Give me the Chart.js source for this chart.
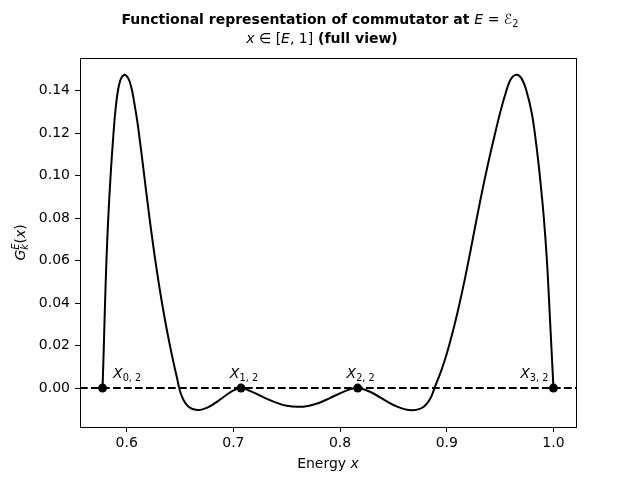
<!DOCTYPE html>
<html>
<head>
<meta charset="utf-8">
<title>Functional representation of commutator</title>
<script src="https://cdn.jsdelivr.net/npm/chart.js@4.4.0/dist/chart.umd.min.js"></script>
<style>
  html, body { margin: 0; padding: 0; background: #fff; }
  canvas { display: block; }
</style>
</head>
<body>
<canvas id="chart" width="640" height="480"></canvas>
<script>
// G_k^E(x)
const curveX = [
  0.57735, 0.5781, 0.5788, 0.5797, 0.5810, 0.5827, 0.5849, 0.5872, 0.5893, 0.5918,
  0.5945, 0.5978, 0.6000, 0.6025, 0.6050, 0.6075, 0.6100, 0.6125, 0.6150, 0.6175,
  0.6200, 0.6225, 0.6250, 0.6275, 0.6300, 0.6325, 0.6350, 0.6375, 0.6400, 0.6425,
  0.6450, 0.6475, 0.6492, 0.6510, 0.6535, 0.6565, 0.6600, 0.6635, 0.6668, 0.6710,
  0.6760, 0.6820, 0.6880, 0.6940, 0.7000, 0.7071, 0.7140, 0.7230, 0.7320, 0.7420,
  0.7500, 0.7598, 0.7700, 0.7800, 0.7900, 0.8000, 0.8090, 0.8165, 0.8240, 0.8330,
  0.8430, 0.8530, 0.8610, 0.8680, 0.8740, 0.8790, 0.8830, 0.8860, 0.8885, 0.8950,
  0.9000, 0.9050, 0.9100, 0.9150, 0.9200, 0.9250, 0.9300, 0.9350, 0.9400, 0.9450,
  0.9500, 0.9550, 0.9600, 0.9653, 0.9700, 0.9746, 0.9800, 0.9850, 0.9880, 0.9910,
  0.9940, 0.9965, 0.9985, 1.0000
];
const curveY = [
  0.0000, 0.0120, 0.0240, 0.0400, 0.0600, 0.0800, 0.1000, 0.1170, 0.1300, 0.1400,
  0.1455, 0.1474, 0.1468, 0.1446, 0.1400, 0.1330, 0.1252, 0.1157, 0.1058, 0.0955,
  0.0855, 0.0757, 0.0665, 0.0577, 0.0495, 0.0418, 0.0345, 0.0277, 0.0213, 0.0152,
  0.0095, 0.0040, 0.0000, -0.0030, -0.0058, -0.0080, -0.0094, -0.0101, -0.0103, -0.0100,
  -0.0091, -0.0073, -0.0052, -0.0030, -0.0011, 0.0000, -0.0010, -0.0030, -0.0052, -0.0072,
  -0.0083, -0.0088, -0.0084, -0.0070, -0.0048, -0.0024, -0.0006, 0.0000, -0.0009, -0.0030,
  -0.0060, -0.0086, -0.0100, -0.0104, -0.0099, -0.0085, -0.0062, -0.0034, 0.0000, 0.0085,
  0.0162, 0.0253, 0.0355, 0.0467, 0.0589, 0.0718, 0.0847, 0.0970, 0.1085, 0.1192,
  0.1295, 0.1385, 0.1453, 0.1474, 0.1457, 0.1400, 0.1285, 0.1100, 0.0960, 0.0800,
  0.0590, 0.0350, 0.0150, 0.0000
];

// marked points X_{k,2}
const rootX = [0.57735, 0.70711, 0.81650, 1.0];
const rootY = [0, 0, 0, 0];
const rootNames = ['0, 2', '1, 2', '2, 2', '3, 2'];

const xTicks = [0.6, 0.7, 0.8, 0.9, 1.0];
const yTicks = [0.00, 0.02, 0.04, 0.06, 0.08, 0.10, 0.12, 0.14];

// matplotlib-like 5% margins
function padRange(vals) {
  const lo = Math.min(...vals), hi = Math.max(...vals);
  const m = (hi - lo) * 0.05;
  return [lo - m, hi + m];
}
const [xMin, xMax] = padRange(curveX);
const [yMin, yMax] = padRange(curveY);

const FONT = '"DejaVu Sans", "Noto Sans", sans-serif';
const BASE = 14;

// text with italic / bold / sub / sup pieces
function fontFor(s, size) {
  return (s.i ? 'italic ' : '') + (s.b ? 'bold ' : '') + size + 'px ' + FONT;
}
function drawRich(ctx, segs, x, y, size, align) {
  let cursor = 0, prevStart = 0;
  const placed = [];
  for (const s of segs) {
    const sz = (s.sub || s.sup) ? size * 0.7 : size;
    ctx.font = fontFor(s, sz);
    const w = ctx.measureText(s.t).width;
    let start;
    if (s.same) { start = prevStart; cursor = Math.max(cursor, start + w); }
    else { start = cursor; cursor += w; }
    placed.push({ s, sz, start });
    prevStart = start;
  }
  let x0 = x;
  if (align === 'center') x0 = x - cursor / 2;
  if (align === 'right') x0 = x - cursor;
  ctx.textAlign = 'left';
  ctx.textBaseline = 'alphabetic';
  ctx.fillStyle = '#000';
  for (const p of placed) {
    ctx.font = fontFor(p.s, p.sz);
    let dy = 0;
    if (p.s.sub) dy = size * 0.22;
    if (p.s.sup) dy = -size * 0.40;
    ctx.fillText(p.s.t, x0 + p.start, y + dy);
  }
}

const labelAlign = ['left', 'center', 'center', 'right'];
const labelShift = [10.5, 3, 3, -5];

const decorations = {
  id: 'decorations',
  afterDatasetDraw(chart, args) {
    if (args.index !== 0) return;
    const { ctx, chartArea } = chart;
    const y0 = chart.scales.y.getPixelForValue(0);
    ctx.save();
    ctx.strokeStyle = '#000';
    ctx.lineWidth = 2;
    ctx.setLineDash([7.7, 3.3]);
    ctx.beginPath();
    ctx.moveTo(chartArea.left, y0);
    ctx.lineTo(chartArea.right, y0);
    ctx.stroke();
    ctx.restore();
  },
  afterDraw(chart) {
    const { ctx, chartArea } = chart;
    const sx = chart.scales.x, sy = chart.scales.y;
    ctx.save();
    // frame
    ctx.strokeStyle = '#000';
    ctx.lineWidth = 1;
    ctx.strokeRect(Math.round(chartArea.left) + 0.5, Math.round(chartArea.top) + 0.5,
      Math.round(chartArea.right - chartArea.left), Math.round(chartArea.bottom - chartArea.top));

    // point labels
    rootX.forEach((v, k) => {
      const px = sx.getPixelForValue(v) + labelShift[k];
      const py = sy.getPixelForValue(rootY[k]) - 10;
      drawRich(ctx, [{ t: 'X', i: true }, { t: rootNames[k], sub: true }], px, py, BASE, labelAlign[k]);
    });

    // title
    drawRich(ctx, [
      { t: 'Functional representation of commutator at ', b: true },
      { t: 'E', i: true }, { t: ' = ' }, { t: '\u2130' }, { t: '2', sub: true }
    ], 320, 24, BASE, 'center');
    drawRich(ctx, [
      { t: 'x', i: true }, { t: ' \u2208 [' }, { t: 'E', i: true }, { t: ', 1]' },
      { t: ' (full view)', b: true }
    ], 322, 43, BASE, 'center');

    // axis labels
    drawRich(ctx, [{ t: 'Energy ' }, { t: 'x', i: true }],
      (chartArea.left + chartArea.right) / 2, 468, BASE, 'center');
    ctx.translate(25, (chartArea.top + chartArea.bottom) / 2);
    ctx.rotate(-Math.PI / 2);
    drawRich(ctx, [
      { t: 'G', i: true }, { t: 'E', i: true, sup: true }, { t: 'k', i: true, sub: true, same: true },
      { t: '(' }, { t: 'x', i: true }, { t: ')' }
    ], 0, 0, BASE, 'center');
    ctx.restore();
  }
};

const tickStyle = {
  grid: { display: true, drawOnChartArea: false, drawTicks: true, tickLength: 5, color: '#000', lineWidth: 1 },
  border: { display: false }
};

new Chart(document.getElementById('chart'), {
  type: 'scatter',
  data: {
    datasets: [
      {
        data: curveX.map((x, i) => ({ x, y: curveY[i] })),
        showLine: true,
        borderColor: '#000',
        borderWidth: 2,
        pointRadius: 0,
        tension: 0.35,
        order: 2
      },
      {
        data: rootX.map((x, i) => ({ x, y: rootY[i] })),
        showLine: false,
        pointRadius: 4.5,
        backgroundColor: '#000',
        borderWidth: 0,
        order: 1
      }
    ]
  },
  options: {
    responsive: false,
    animation: false,
    layout: { padding: { top: 58, right: 64, left: 0, bottom: 0 } },
    plugins: { legend: { display: false }, tooltip: { enabled: false }, title: { display: false } },
    scales: {
      x: {
        type: 'linear',
        min: xMin,
        max: xMax,
        ...tickStyle,
        afterBuildTicks: s => { s.ticks = xTicks.map(v => ({ value: v })); },
        afterFit: s => { s.height = 53; },
        ticks: {
          color: '#000', padding: 3, maxRotation: 0,
          font: { family: FONT, size: BASE },
          callback: v => v.toFixed(1)
        }
      },
      y: {
        type: 'linear',
        min: yMin,
        max: yMax,
        ...tickStyle,
        afterBuildTicks: s => { s.ticks = yTicks.map(v => ({ value: v })); },
        afterFit: s => { s.width = 80; },
        ticks: {
          color: '#000', padding: 5,
          font: { family: FONT, size: BASE },
          callback: v => v.toFixed(2)
        }
      }
    }
  },
  plugins: [decorations]
});
</script>
</body>
</html>
